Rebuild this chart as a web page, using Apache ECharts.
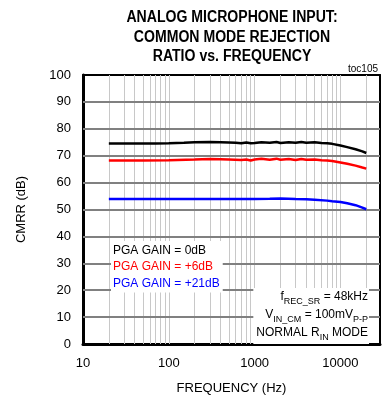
<!DOCTYPE html>
<html><head><meta charset="utf-8">
<script src="https://cdn.jsdelivr.net/npm/echarts@6/dist/echarts.min.js"></script>
<style>html,body{margin:0;padding:0;background:#fff}#c{width:387px;height:395px}</style>
</head><body><div id="c"></div>
<script>
// ---- data ----
var freq0 = [20,30,50,70,100,150,200,300,400,500,600,700,800,900,1000,1200,1500,1800,2000,2500,3000,3500,4000,5000,6000,7000,8000,10000,12000,15000,18000,20000];
var cmrr0 = [74.5,74.5,74.5,74.5,74.6,74.8,75.0,75.1,75.0,74.9,74.8,74.6,74.9,74.6,74.7,75.0,74.8,75.1,74.7,75.0,74.8,75.1,74.8,75.0,74.7,74.6,74.4,73.8,73.2,72.4,71.6,71.0];
var freq6 = [20,50,100,200,300,400,500,700,800,900,1000,1200,1500,1800,2000,2500,3000,3500,4000,5000,6000,7000,8000,10000,12000,15000,18000,20000];
var cmrr6 = [68.2,68.2,68.3,68.6,68.8,68.7,68.6,68.4,68.6,68.2,68.6,68.9,68.5,68.9,68.5,68.8,68.4,68.8,68.5,68.6,68.3,68.2,68.0,67.5,67.0,66.3,65.6,65.2];
var freq21 = [20,100,300,500,1000,1500,2000,3000,4000,5000,7000,8000,10000,12000,15000,18000,20000];
var cmrr21 = [53.9,53.9,53.9,53.9,53.9,54.0,54.1,53.9,53.8,53.6,53.3,53.1,52.8,52.3,51.6,50.7,50.1];
var xTickLabels = [10,100,1000,10000];
var vGrid = [20,30,40,50,60,70,80,90,100,200,300,400,500,600,700,800,900,1000,2000,3000,4000,5000,6000,7000,8000,9000,10000,20000];
var hGrid = [10,20,30,40,50,60,70,80,90];
var seriesNames = ['PGA GAIN = 0dB','PGA GAIN = +6dB','PGA GAIN = +21dB'];
var titleLines = ['ANALOG MICROPHONE INPUT:','COMMON MODE REJECTION','RATIO vs. FREQUENCY'];

function pairs(xs, ys){ return xs.map(function(x,i){ return [x, ys[i]]; }); }
var FF = 'Liberation Sans, Arial, sans-serif';
var XMIN = 10, XMAX = 28900;
var gridLines = vGrid.map(function(v){return [{coord:[v,0]},{coord:[v,100]}];})
  .concat(hGrid.map(function(v){return [{coord:[XMIN,v],lineStyle:{color:'#808080',width:2}},{coord:[XMAX,v]}];}));
var chart = echarts.init(document.getElementById('c'));
chart.setOption({
  animation:false,
  textStyle:{fontFamily:FF},
  grid:{left:83,right:7,top:75,bottom:51,containLabel:false,outerBoundsMode:'none'},
  xAxis:[{type:'log',logBase:10,min:XMIN,max:XMAX,z:3,
    name:'FREQUENCY (Hz)',nameLocation:'middle',nameGap:38,
    nameTextStyle:{fontSize:13,color:'#000',fontFamily:FF},
    axisLine:{lineStyle:{color:'#000',width:3}},axisTick:{show:false},
    splitLine:{show:false},minorTick:{show:false},
    axisLabel:{fontSize:13,color:'#000',margin:13,fontFamily:FF,showMaxLabel:false,
      formatter:function(v){ return xTickLabels.indexOf(Math.round(v))>=0 ? String(Math.round(v)) : ''; }}
  },{type:'log',logBase:10,min:XMIN,max:XMAX,position:'top',z:3,
    axisLine:{show:true,onZero:false,lineStyle:{color:'#000',width:2}},axisTick:{show:false},
    axisLabel:{show:false},splitLine:{show:false}}],
  yAxis:[{type:'value',min:0,max:100,interval:10,z:2,
    name:'CMRR (dB)',nameLocation:'middle',nameGap:55,nameRotate:90,
    nameTextStyle:{fontSize:13,color:'#000',fontFamily:FF},
    axisLine:{show:true,onZero:false,lineStyle:{color:'#000',width:3}},axisTick:{show:false},
    splitLine:{show:false},
    axisLabel:{fontSize:13,color:'#000',margin:12,fontFamily:FF}
  },{type:'value',min:0,max:100,interval:10,position:'right',z:3,
    axisLine:{show:true,onZero:false,lineStyle:{color:'#000',width:2}},axisTick:{show:false},
    axisLabel:{show:false},splitLine:{show:false}}],
  series:[
    {type:'line',data:[],z:1,silent:true,
     markLine:{silent:true,symbol:['none','none'],label:{show:false},animation:false,
       lineStyle:{type:'solid',color:'#c8c8c8',width:1},data:gridLines}},
    {name:seriesNames[0],type:'line',data:pairs(freq0,cmrr0),showSymbol:false,z:5,
     lineStyle:{color:'#000',width:2.5},itemStyle:{color:'#000'}},
    {name:seriesNames[1],type:'line',data:pairs(freq6,cmrr6),showSymbol:false,z:5,
     lineStyle:{color:'#ff0000',width:2.5},itemStyle:{color:'#ff0000'}},
    {name:seriesNames[2],type:'line',data:pairs(freq21,cmrr21),showSymbol:false,z:5,
     lineStyle:{color:'#0000ff',width:2.5},itemStyle:{color:'#0000ff'}}
  ],
  graphic:[
    {type:'text',x:232,y:8,z:10,scaleX:0.88,style:{text:titleLines.join('\n'),align:'center',verticalAlign:'top',
      font:'bold 16px "Liberation Sans", Arial, sans-serif',lineHeight:19.5,fill:'#000'}},
    {type:'text',x:378,y:64,z:10,style:{text:'toc105',align:'right',verticalAlign:'top',fontSize:10,fontFamily:FF,fill:'#000'}},
    {type:'text',x:111,y:241,z:10,style:{
      text:'{k|'+seriesNames[0]+'}\n{r|'+seriesNames[1]+'}\n{b|'+seriesNames[2]+'}',
      backgroundColor:'#fff',padding:[1,3,1,2],verticalAlign:'top',fontFamily:FF,
      rich:{k:{fill:'#000',fontSize:12,lineHeight:16.5,fontFamily:FF},
            r:{fill:'#ff0000',fontSize:12,lineHeight:16.5,fontFamily:FF},
            b:{fill:'#0000ff',fontSize:12,lineHeight:16.5,fontFamily:FF}}}},
    {type:'text',x:369,y:288,z:10,style:{
      text:'{m|f}{s|REC_SR}{m| = 48kHz}\n{m|V}{s|IN_CM}{m| = 100mV}{s|P-P}\n{m|NORMAL R}{s|IN}{m| MODE}',
      backgroundColor:'#fff',padding:[0,1,2,3],align:'right',verticalAlign:'top',fontFamily:FF,
      rich:{m:{fill:'#000',fontSize:12,lineHeight:18,fontFamily:FF},
            s:{fill:'#000',fontSize:9,lineHeight:9,verticalAlign:'bottom',fontFamily:FF}}}}
  ]
});
</script></body></html>
